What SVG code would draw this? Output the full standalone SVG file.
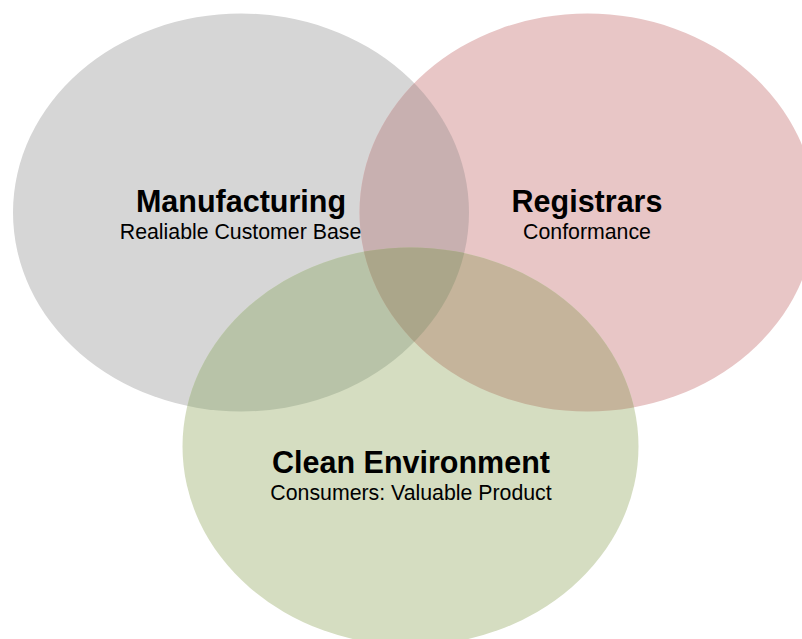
<svg xmlns="http://www.w3.org/2000/svg" width="802" height="639" viewBox="0 0 802 639">
<style>
.t{font-family:"Liberation Sans",Arial,sans-serif;font-weight:bold;font-size:30.5px;fill:#000;text-anchor:middle}
.s{font-family:"Liberation Sans",Arial,sans-serif;font-size:21.3px;fill:#000;text-anchor:middle}
</style>
<defs>
<clipPath id="cg"><ellipse cx="241" cy="212.5" rx="228" ry="199"/></clipPath>
<clipPath id="cr"><ellipse cx="587.5" cy="212.5" rx="228" ry="199"/></clipPath>
</defs>
<rect width="802" height="639" fill="#fff"/>
<g id="manufacturing">
<ellipse cx="241" cy="212.5" rx="228" ry="199" fill="#d6d6d6"/>
</g>
<g id="registrars">
<ellipse cx="587.5" cy="212.5" rx="228" ry="199" fill="#e8c6c6"/>
</g>
<g id="clean-environment">
<ellipse cx="410.5" cy="446.5" rx="228" ry="199" fill="#d5ddc1"/>
</g>
<g id="overlaps">
<ellipse cx="587.5" cy="212.5" rx="228" ry="199" fill="#c8b0b0" clip-path="url(#cg)"/>
<ellipse cx="410.5" cy="446.5" rx="228" ry="199" fill="#b8c3a8" clip-path="url(#cg)"/>
<ellipse cx="410.5" cy="446.5" rx="228" ry="199" fill="#c5b49b" clip-path="url(#cr)"/>
<g clip-path="url(#cg)">
<ellipse cx="410.5" cy="446.5" rx="228" ry="199" fill="#aba68a" clip-path="url(#cr)"/>
</g>
</g>
<g id="labels">
<text class="t" x="241" y="212">Manufacturing</text>
<text class="s" x="240.5" y="239">Realiable Customer Base</text>
<text class="t" x="587" y="212">Registrars</text>
<text class="s" x="587" y="239">Conformance</text>
<text class="t" x="411" y="473">Clean Environment</text>
<text class="s" x="411" y="500">Consumers: Valuable Product</text>
</g>
</svg>
